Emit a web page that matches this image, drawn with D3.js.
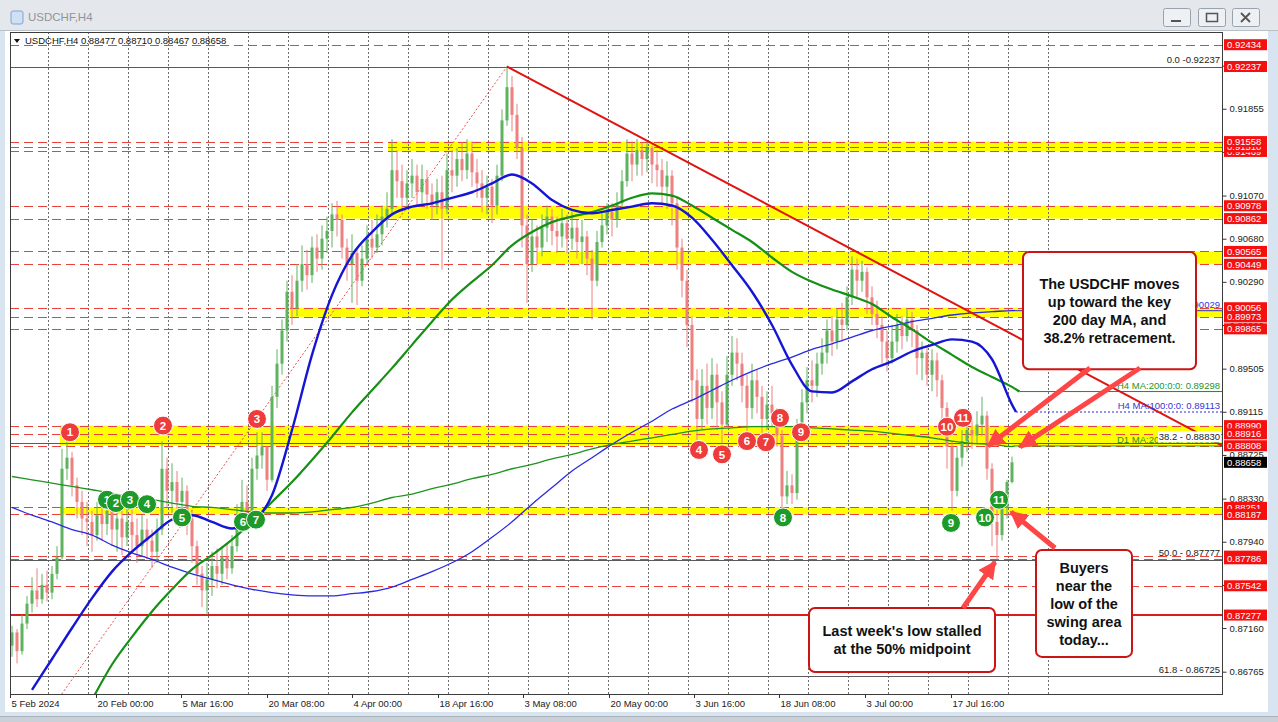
<!DOCTYPE html>
<html><head><meta charset="utf-8">
<script src="https://cdnjs.cloudflare.com/ajax/libs/d3/7.8.5/d3.min.js"></script>
<style>
html,body{margin:0;padding:0;background:#fff;overflow:hidden;}
svg{display:block;font-family:"Liberation Sans",Arial,sans-serif;}
</style></head><body>
<svg id="c" width="1278" height="722"></svg>
<script>
// ---------------- DATA ----------------
const symbol = "USDCHF,H4";
const ohlcInfo = ["0.88477","0.88710","0.88467","0.88658"];
const firstOpen = 0.8700;
const closes = [
0.8712,0.8695,0.8720,0.8738,0.8750,0.8742,0.8755,0.8748,0.8765,0.8780,
0.8860,0.8870,0.8845,0.8830,0.8815,0.8812,0.8800,0.8818,0.8810,0.8822,
0.8805,0.8815,0.8798,0.8812,0.8800,0.8790,0.8805,0.8795,0.8785,0.8805,
0.8860,0.8840,0.8848,0.8830,0.8840,0.8815,0.8790,0.8765,0.8750,0.8760,
0.8772,0.8765,0.8780,0.8770,0.8790,0.8818,0.8830,0.8820,0.8860,0.8872,
0.8880,0.8850,0.8925,0.8955,0.8985,0.9020,0.9005,0.9030,0.9045,0.9035,
0.9060,0.9050,0.9068,0.9075,0.9090,0.9085,0.9060,0.9045,0.9055,0.9030,
0.9050,0.9068,0.9060,0.9072,0.9088,0.9095,0.9130,0.9120,0.9105,0.9118,
0.9125,0.9110,0.9122,0.9108,0.9098,0.9110,0.9095,0.9130,0.9125,0.9140,
0.9130,0.9145,0.9128,0.9118,0.9105,0.9115,0.9098,0.9125,0.9175,0.9205,
0.9180,0.9150,0.9080,0.9045,0.9070,0.9060,0.9078,0.9088,0.9075,0.9070,
0.9082,0.9068,0.9078,0.9065,0.9070,0.9050,0.9030,0.9065,0.9080,0.9092,
0.9085,0.9100,0.9120,0.9145,0.9135,0.9148,0.9140,0.9150,0.9135,0.9130,
0.9115,0.9125,0.9100,0.9060,0.9030,0.8990,0.8940,0.8905,0.8935,0.8915,
0.8945,0.8920,0.8900,0.8945,0.8965,0.8955,0.8935,0.8915,0.8940,0.8925,
0.8905,0.8918,0.8910,0.8890,0.8835,0.8845,0.8838,0.8890,0.8920,0.8940,
0.8935,0.8955,0.8965,0.8985,0.8975,0.8995,0.8990,0.9015,0.9040,0.9030,
0.9038,0.9015,0.9000,0.8990,0.8975,0.8960,0.8975,0.8990,0.8980,0.8995,
0.8985,0.8960,0.8965,0.8945,0.8958,0.8940,0.8915,0.8880,0.8840,0.8870,
0.8885,0.8895,0.8890,0.8900,0.8908,0.8860,0.8812,0.8800,0.8825,0.8848,
0.88658];
const highs = [
0.8718,0.8715,0.8728,0.8745,0.8762,0.8770,0.8765,0.8768,0.8772,0.8790,
0.8878,0.8888,0.8875,0.8852,0.8840,0.8830,0.8822,0.8830,0.8832,0.8835,
0.8828,0.8830,0.8822,0.8830,0.8828,0.8815,0.8818,0.8815,0.8805,0.8815,
0.8885,0.8870,0.8865,0.8858,0.8852,0.8845,0.8822,0.8795,0.8772,0.8775,
0.8785,0.8788,0.8790,0.8792,0.8800,0.8828,0.8850,0.8845,0.8870,0.8893,
0.8893,0.8880,0.8935,0.8968,0.8995,0.9030,0.9035,0.9045,0.9062,0.9058,
0.9070,0.9072,0.9080,0.9088,0.9100,0.9102,0.9090,0.9068,0.9072,0.9060,
0.9062,0.9080,0.9085,0.9090,0.9098,0.9110,0.9158,0.9148,0.9135,0.9130,
0.9140,0.9135,0.9135,0.9130,0.9118,0.9122,0.9125,0.9145,0.9148,0.9150,
0.9155,0.9158,0.9156,0.9140,0.9130,0.9125,0.9122,0.9135,0.9185,0.9224,
0.9215,0.9190,0.9160,0.9090,0.9085,0.9080,0.9090,0.9098,0.9095,0.9088,
0.9095,0.9090,0.9092,0.9085,0.9085,0.9075,0.9058,0.9075,0.9092,0.9100,
0.9100,0.9110,0.9130,0.9158,0.9156,0.9158,0.9155,0.9156,0.9152,0.9148,
0.9140,0.9138,0.9130,0.9105,0.9068,0.9040,0.8998,0.8950,0.8950,0.8955,
0.8960,0.8955,0.8930,0.8962,0.8980,0.8978,0.8965,0.8945,0.8955,0.8950,
0.8935,0.8930,0.8935,0.8915,0.8895,0.8858,0.8855,0.8905,0.8932,0.8952,
0.8958,0.8965,0.8978,0.8995,0.8998,0.9005,0.9010,0.9025,0.9052,0.9050,
0.9048,0.9042,0.9025,0.9012,0.8998,0.8985,0.8990,0.9000,0.8998,0.9005,
0.9002,0.8990,0.8975,0.8970,0.8968,0.8965,0.8945,0.8920,0.8885,0.8880,
0.8895,0.8905,0.8905,0.8912,0.8925,0.8912,0.8865,0.8825,0.8835,0.8850,
0.88710];
const lows = [
0.8690,0.8684,0.8692,0.8715,0.8730,0.8735,0.8738,0.8740,0.8742,0.8760,
0.8778,0.8850,0.8835,0.8815,0.8800,0.8790,0.8785,0.8795,0.8795,0.8800,
0.8790,0.8785,0.8782,0.8790,0.8785,0.8775,0.8780,0.8778,0.8770,0.8775,
0.8800,0.8825,0.8820,0.8815,0.8818,0.8800,0.8775,0.8755,0.8735,0.8728,
0.8745,0.8752,0.8755,0.8760,0.8765,0.8785,0.8805,0.8810,0.8815,0.8850,
0.8860,0.8840,0.8848,0.8915,0.8945,0.8975,0.8990,0.8998,0.9020,0.9022,
0.9028,0.9038,0.9040,0.9055,0.9060,0.9070,0.9050,0.9030,0.9010,0.9008,
0.9025,0.9045,0.9050,0.9055,0.9062,0.9078,0.9090,0.9105,0.9092,0.9095,
0.9105,0.9098,0.9100,0.9095,0.9085,0.9090,0.9040,0.9090,0.9110,0.9115,
0.9120,0.9122,0.9115,0.9105,0.9092,0.9090,0.9082,0.9090,0.9120,0.9170,
0.9165,0.9140,0.9060,0.9010,0.9038,0.9045,0.9052,0.9065,0.9062,0.9055,
0.9060,0.9055,0.9058,0.9050,0.9045,0.9035,0.8995,0.9025,0.9060,0.9072,
0.9070,0.9078,0.9095,0.9115,0.9120,0.9125,0.9125,0.9128,0.9118,0.9115,
0.9100,0.9095,0.9080,0.9040,0.9015,0.8970,0.8920,0.8886,0.8895,0.8900,
0.8905,0.8895,0.8883,0.8898,0.8935,0.8940,0.8920,0.8890,0.8905,0.8910,
0.8892,0.8895,0.8898,0.8880,0.8823,0.8828,0.8828,0.8832,0.8885,0.8910,
0.8920,0.8925,0.8945,0.8955,0.8962,0.8968,0.8975,0.8985,0.9008,0.9015,
0.9020,0.9000,0.8990,0.8978,0.8955,0.8948,0.8955,0.8965,0.8968,0.8975,
0.8970,0.8945,0.8940,0.8935,0.8930,0.8925,0.8895,0.8860,0.8822,0.8835,
0.8862,0.8875,0.8878,0.8882,0.8890,0.8850,0.8790,0.8778,0.8795,0.8815,
0.88467];

// moving averages sampled every 4 bars
const maStep = 4;
const h4ma100Start = 4;
const h4ma100 = [0.8660,0.8688,0.8716,0.8743,0.8767,0.8785,0.8800,0.8814,0.8818,0.8812,
0.8806,0.8812,0.8836,0.8895,0.8963,0.9017,0.9053,0.9074,0.9090,0.9097,
0.9100,0.9105,0.9110,0.9118,0.9126,0.9118,0.9103,0.9094,0.9091,0.9094,
0.9097,0.9100,0.9098,0.9087,0.9067,0.9044,0.9020,0.8990,0.8954,0.8930,
0.8929,0.8939,0.8950,0.8957,0.8966,0.8972,0.8977,0.8975,0.8959,0.8918];
const h4ma200Start = 16;
const h4ma200 = [0.8651,0.8683,0.8708,0.8731,0.8751,0.8769,0.8782,0.8796,0.8812,0.8830,
0.8848,0.8868,0.8889,0.8911,0.8931,0.8951,0.8972,0.8993,0.9013,0.9029,
0.9044,0.9062,0.9074,0.9083,0.9088,0.9092,0.9098,0.9105,0.9109,0.9107,
0.9098,0.9087,0.9076,0.9065,0.9051,0.9038,0.9029,0.9022,0.9016,0.9009,
0.8997,0.8986,0.8974,0.8963,0.8952,0.8943,0.8934];
const d1ma100Start = 0;
const d1ma100 = [0.8825,0.8818,0.8812,0.8805,0.8800,0.8791,0.8784,0.8778,0.8771,0.8765,
0.8760,0.8755,0.8751,0.8748,0.8746,0.8745,0.8745,0.8747,0.8749,0.8753,
0.8760,0.8767,0.8775,0.8785,0.8798,0.8812,0.8828,0.8843,0.8858,0.8870,
0.8882,0.8893,0.8903,0.8914,0.8922,0.8931,0.8940,0.8948,0.8955,0.8961,
0.8968,0.8973,0.8979,0.8985,0.8989,0.8993,0.8996,0.8999,0.9001,0.9002,0.9003];
const d1ma200Start = 0;
const d1ma200 = [0.8853,0.8850,0.8847,0.8844,0.8841,0.8838,0.8834,0.8832,0.8829,0.8826,
0.8825,0.8823,0.8821,0.8820,0.8820,0.8821,0.8823,0.8825,0.8829,0.8834,
0.8837,0.8842,0.8846,0.8851,0.8855,0.8860,0.8864,0.8869,0.8873,0.8878,
0.8882,0.8885,0.8888,0.8891,0.8894,0.8896,0.8897,0.8898,0.8898,0.8898,
0.8897,0.8896,0.8895,0.8894,0.8892,0.8890,0.8888,0.8885,0.8883,0.8882,0.8880];
const maLastValues = {h4ma100:0.89113, h4ma200:0.89298, d1ma100:0.90029, d1ma200:0.88806};
const maLabels = ["H4 MA:100:0:0: 0.89113","H4 MA:200:0:0: 0.89298","D1 MA:100:0:0: 0.90029","D1 MA:200:0:0: 0.88806"];

const priceTicks = [0.92245,0.91855,0.91465,0.91070,0.90680,0.90290,0.89900,0.89505,0.89115,0.88725,0.88330,0.87940,0.87550,0.87160,0.86765];
const timeLabels = ["5 Feb 2024","20 Feb 00:00","5 Mar 16:00","20 Mar 08:00","4 Apr 00:00","18 Apr 16:00","3 May 08:00","20 May 00:00","3 Jun 16:00","18 Jun 08:00","3 Jul 00:00","17 Jul 16:00"];
const timeLabelBars = [-0.4,16.7,33.8,50.9,68.0,85.1,102.2,119.3,136.4,153.5,170.6,187.7];

const dashedLevels = [0.92434,0.91558,0.91510,0.91469,0.90978,0.90862,0.90565,0.90449,0.90056,0.89973,0.89865,0.88990,0.88916,0.88808,0.88251,0.88187,0.87810,0.87786,0.87542];
const supportLevel = 0.87277;
const priceTags = [0.92434,0.92237,0.91469,0.91510,0.91558,0.90978,0.90862,0.90565,0.90449,0.90056,0.89973,0.89865,0.88990,0.88916,0.88808,0.88251,0.88187,0.87810,0.87786,0.87542,0.87277];
const currentPrice = 0.88658;

const bandStartBar = [75.2,65,105,55.6,9.6,9.6];
const bandTop = [0.91558,0.90978,0.90565,0.90056,0.88990,0.88251];
const bandBottom = [0.91469,0.90862,0.90449,0.89973,0.88808,0.88187];

const fibLevels = [0.92237,0.88830,0.87777,0.86725];
const fibTexts = ["0.0 -0.92237","38.2 - 0.88830","50.0 - 0.87777","61.8 - 0.86725"];
const fibAnchorBars = [-41,99];
const fibAnchorPrices = [0.83317,0.92237];
const trendBars = [99,242];
const trendPrices = [0.92237,0.88810];

const redMarkBars = [11.6,30.2,49.0,137.4,142.0,147.0,150.8,153.6,157.8,187.0,190.2];
const redMarkPrices = [0.8893,0.8899,0.8905,0.8877,0.8873,0.8885,0.8884,0.8906,0.8893,0.8898,0.8906];
const greenMarkBars = [19.0,20.8,23.6,27.0,34.0,46.2,48.8,154.2,187.8,194.6,197.4];
const greenMarkPrices = [0.8832,0.8829,0.8832,0.8828,0.8816,0.8812,0.8814,0.8816,0.8811,0.8816,0.8832];

const noteLines = [
  ["The USDCHF moves","up toward the key","200 day MA, and","38.2% retracement."],
  ["Last week's low stalled","at the 50% midpoint"],
  ["Buyers","near the","low of the","swing area","today..."]
];
const noteBars = [[202.2,236.8],[159.4,196.6],[204.8,224]];
const notePrices = [[0.9056,0.8950],[0.87341,0.86762],[0.87866,0.86899]];
const arrowFrom = [[215.6,0.89511],[225.6,0.89511],[190.2,0.87341],[208.6,0.87884]];
const arrowTo = [[195.2,0.88806],[201.6,0.88797],[196.6,0.87757],[199.8,0.88209]];

// ---------------- DRAW ----------------
const W=1278,H=722;
const P={l:10,r:1222,t:32,b:694};
const svg=d3.select("#c");
const x=d3.scaleLinear().domain([0,200]).range([12,1012]);
const y=d3.scaleLinear().domain([0.86765,0.92237]).range([671.7,66.5]);
const rightBar=x.invert(P.r);

const defs=svg.append("defs");
defs.append("clipPath").attr("id","clip").append("rect")
  .attr("x",P.l).attr("y",P.t).attr("width",P.r-P.l).attr("height",P.b-P.t);
defs.append("marker").attr("id","ah").attr("viewBox","0 0 10 10").attr("refX",9).attr("refY",5)
  .attr("markerWidth",18).attr("markerHeight",18).attr("markerUnits","userSpaceOnUse").attr("orient","auto")
  .append("path").attr("d","M0,0 L10,5 L0,10 z").attr("fill","#ff4646");

// window chrome
svg.append("rect").attr("width",W).attr("height",H).attr("fill","#d8e4f0");
svg.append("rect").attr("x",0).attr("y",0).attr("width",W).attr("height",31).attr("fill","#e4e8ed");
svg.append("line").attr("x1",0).attr("x2",W).attr("y1",30.5).attr("y2",30.5).attr("stroke","#b8c0c8");
svg.append("rect").attr("x",11).attr("y",11).attr("width",12).attr("height",13).attr("rx",2).attr("fill","#cfe0f3").attr("stroke","#7ea6d3");
svg.append("text").attr("x",28).attr("y",21).attr("font-size",11.5).attr("fill","#8f9499").text(symbol);
const btnX=[1163,1198,1232];
btnX.forEach((bx)=>{
  svg.append("rect").attr("x",bx+0.5).attr("y",8.5).attr("width",27).attr("height",18).attr("rx",2)
    .attr("fill","#eef1f4").attr("stroke","#9aa3ad");
});
svg.append("line").attr("x1",1171).attr("x2",1181).attr("y1",21).attr("y2",21).attr("stroke","#555").attr("stroke-width",2);
svg.append("rect").attr("x",1206.5).attr("y",13.5).attr("width",11).attr("height",8).attr("fill","none").attr("stroke","#555").attr("stroke-width",1.5);
svg.append("path").attr("d","M1241,13 L1250,22 M1250,13 L1241,22").attr("stroke","#555").attr("stroke-width",1.8);
svg.append("rect").attr("x",5).attr("y",31).attr("width",1263).attr("height",681).attr("fill","#ffffff");
svg.append("line").attr("x1",0).attr("x2",W).attr("y1",716.5).attr("y2",716.5).attr("stroke","#a9b1ba");
svg.append("rect").attr("x",0).attr("y",717).attr("width",W).attr("height",5).attr("fill","#c9d0d8");

const plot=svg.append("g").attr("clip-path","url(#clip)");

// yellow bands
plot.selectAll(".band").data(bandStartBar).join("rect")
  .attr("x",(d)=>x(d)).attr("width",(d)=>P.r-x(d))
  .attr("y",(d,k)=>y(bandTop[k])).attr("height",(d,k)=>y(bandBottom[k])-y(bandTop[k]))
  .attr("fill","#ffff00");

// vertical grid
plot.selectAll(".vg").data(d3.range(7.2,208,8)).join("line")
  .attr("x1",d=>Math.round(x(d))+0.5).attr("x2",d=>Math.round(x(d))+0.5).attr("y1",P.t).attr("y2",P.b)
  .attr("stroke","#6e6e6e").attr("stroke-dasharray","2,2").attr("stroke-width",1);

// fib levels
plot.selectAll(".fib").data(fibLevels).join("line")
  .attr("x1",P.l).attr("x2",P.r).attr("y1",d=>Math.round(y(d))+0.5).attr("y2",d=>Math.round(y(d))+0.5)
  .attr("stroke","#5a5a5a").attr("stroke-width",1);
plot.append("line").attr("x1",x(fibAnchorBars[0])).attr("y1",y(fibAnchorPrices[0]))
  .attr("x2",x(fibAnchorBars[1])).attr("y2",y(fibAnchorPrices[1]))
  .attr("stroke","#e85050").attr("stroke-dasharray","2,2").attr("stroke-width",1);

// dashed red levels
plot.selectAll(".dl").data(dashedLevels).join("line")
  .attr("x1",P.l).attr("x2",P.r).attr("y1",d=>Math.round(y(d))+0.5).attr("y2",d=>Math.round(y(d))+0.5)
  .attr("stroke","#e8433a").attr("stroke-dasharray","9,5").attr("stroke-width",1);
plot.append("line").attr("x1",P.l).attr("x2",P.r).attr("y1",y(supportLevel)).attr("y2",y(supportLevel))
  .attr("stroke","#d91c1c").attr("stroke-width",2);

// candles
const candles=closes.map((c,i)=>{
  const o=i===0?firstOpen:closes[i-1];
  return {i,o,c,h:Math.max(highs[i],o,c),l:Math.min(lows[i],o,c)};
});
const cg=plot.append("g");
cg.selectAll(".wick").data(candles).join("line")
  .attr("x1",d=>x(d.i)).attr("x2",d=>x(d.i)).attr("y1",d=>y(d.h)).attr("y2",d=>y(d.l))
  .attr("stroke",d=>d.c>=d.o?"#5fb35f":"#ee8080").attr("stroke-width",1);
cg.selectAll(".body").data(candles).join("rect")
  .attr("x",d=>x(d.i)-1.5).attr("width",3)
  .attr("y",d=>y(Math.max(d.o,d.c))).attr("height",d=>Math.max(1,Math.abs(y(d.o)-y(d.c))))
  .attr("fill",d=>d.c>=d.o?"#5fb35f":"#ee8080");

// moving averages
function maPts(arr,start){return arr.map((v,k)=>[start+k*maStep,v]);}
const lineGen=d3.line().x(d=>x(d[0])).y(d=>y(d[1])).curve(d3.curveMonotoneX);
const lastBar=200.6;
// D1 thin lines
plot.append("path").attr("d",lineGen(maPts(d1ma100,d1ma100Start).concat([[lastBar,maLastValues.d1ma100]])))
  .attr("fill","none").attr("stroke","#2a2ae0").attr("stroke-width",1.3);
plot.append("line").attr("x1",x(lastBar)).attr("x2",P.r).attr("y1",y(maLastValues.d1ma100)).attr("y2",y(maLastValues.d1ma100))
  .attr("stroke","#2a2ae0").attr("stroke-width",1);
plot.append("path").attr("d",lineGen(maPts(d1ma200,d1ma200Start).concat([[lastBar,maLastValues.d1ma200]])))
  .attr("fill","none").attr("stroke","#1e941e").attr("stroke-width",1.3);
plot.append("line").attr("x1",x(lastBar)).attr("x2",P.r).attr("y1",y(maLastValues.d1ma200)).attr("y2",y(maLastValues.d1ma200))
  .attr("stroke","#1e941e").attr("stroke-width",1);
// H4 thick lines
plot.append("path").attr("d",lineGen(maPts(h4ma200,h4ma200Start).concat([[201.5,maLastValues.h4ma200]])))
  .attr("fill","none").attr("stroke","#159015").attr("stroke-width",2.2);
plot.append("line").attr("x1",x(201.5)).attr("x2",P.r).attr("y1",y(maLastValues.h4ma200)).attr("y2",y(maLastValues.h4ma200))
  .attr("stroke","#159015").attr("stroke-width",1);
plot.append("path").attr("d",lineGen(maPts(h4ma100,h4ma100Start).concat([[200.8,maLastValues.h4ma100]])))
  .attr("fill","none").attr("stroke","#1515d5").attr("stroke-width",2.4);
plot.append("line").attr("x1",x(200.8)).attr("x2",P.r).attr("y1",y(maLastValues.h4ma100)).attr("y2",y(maLastValues.h4ma100))
  .attr("stroke","#2a2ae0").attr("stroke-width",1).attr("stroke-dasharray","2,2");

// trend line
plot.append("line").attr("x1",x(trendBars[0])).attr("y1",y(trendPrices[0])).attr("x2",x(trendBars[1])).attr("y2",y(trendPrices[1]))
  .attr("stroke","#e01212").attr("stroke-width",2);

// MA labels
const maLabelVals=[maLastValues.h4ma100,maLastValues.h4ma200,maLastValues.d1ma100,maLastValues.d1ma200];
const maLabelCols=["#3434d8","#2a922a","#3434d8","#2a922a"];
plot.selectAll(".mal").data(maLabels).join("text")
  .attr("x",P.r-2).attr("y",(d,k)=>y(maLabelVals[k])-3).attr("text-anchor","end")
  .attr("font-size",9.5).attr("fill",(d,k)=>maLabelCols[k]).text(d=>d);

// fib labels
fibTexts.forEach((t,k)=>{
  const ty=y(fibLevels[k])-3.5;
  if(k===1){
    plot.append("rect").attr("x",P.r-64).attr("y",ty-8.5).attr("width",63).attr("height",11).attr("fill","#fff");
  }
  plot.append("text").attr("x",P.r-2).attr("y",ty).attr("text-anchor","end").attr("font-size",9.5).attr("fill","#222").text(t);
});

// markers
function markers(bars,prices,col){
  const g=plot.append("g");
  bars.forEach((b,k)=>{
    g.append("circle").attr("cx",x(b)).attr("cy",y(prices[k])).attr("r",9.5).attr("fill",col).attr("stroke","#fff").attr("stroke-width",1);
    g.append("text").attr("x",x(b)).attr("y",y(prices[k])).attr("dy","0.36em").attr("text-anchor","middle")
      .attr("font-size",11.5).attr("font-weight","bold").attr("fill","#fff").text(k+1);
  });
}
markers(redMarkBars,redMarkPrices,"#ee3b3b");
markers(greenMarkBars,greenMarkPrices,"#1e9a2a");

// frame
svg.append("rect").attr("x",P.l+0.5).attr("y",P.t+0.5).attr("width",P.r-P.l).attr("height",P.b-P.t)
  .attr("fill","none").attr("stroke","#3c3c3c").attr("stroke-width",1);

// price axis
const yAxis=d3.axisRight(y).tickValues(priceTicks).tickSize(4).tickFormat(d3.format(".5f"));
const ag=svg.append("g").attr("transform",`translate(${P.r+0.5},0)`).call(yAxis);
ag.select(".domain").remove();
ag.selectAll("line").attr("stroke","#333");
ag.selectAll("text").attr("font-size",9.5).attr("font-family","Liberation Sans, Arial").attr("fill","#222").attr("x",7);

// price tags
const tg=svg.append("g");
priceTags.forEach(p=>{
  tg.append("rect").attr("x",P.r+2).attr("y",y(p)-5.5).attr("width",43).attr("height",11).attr("fill","#f41010");
  tg.append("text").attr("x",P.r+5).attr("y",y(p)+3.5).attr("font-size",9.5).attr("fill","#fff").text(p.toFixed(5));
});
tg.append("rect").attr("x",P.r+2).attr("y",y(currentPrice)-5.5).attr("width",43).attr("height",11).attr("fill","#000");
tg.append("text").attr("x",P.r+5).attr("y",y(currentPrice)+3.5).attr("font-size",9.5).attr("fill","#fff").text(currentPrice.toFixed(5));

// time axis
const tgx=svg.append("g");
timeLabels.forEach((t,k)=>{
  const tx=Math.round(x(timeLabelBars[k]))+0.5;
  tgx.append("line").attr("x1",tx).attr("x2",tx).attr("y1",P.b).attr("y2",P.b+4).attr("stroke","#333");
  tgx.append("text").attr("x",tx+1).attr("y",707).attr("font-size",9.5).attr("fill","#222").text(t);
});

// header text
svg.append("path").attr("d","M14,39 L20,39 L17,43 z").attr("fill","#111");
svg.append("text").attr("x",25).attr("y",44).attr("font-size",9.5).attr("fill","#111")
  .text(symbol+"  "+ohlcInfo.join(" "));

// annotation boxes
noteLines.forEach((lines,k)=>{
  const x0=x(noteBars[k][0]),x1=x(noteBars[k][1]),y0=y(notePrices[k][0]),y1=y(notePrices[k][1]);
  svg.append("rect").attr("x",x0).attr("y",y0).attr("width",x1-x0).attr("height",y1-y0).attr("rx",6)
    .attr("fill","#fff").attr("stroke","#cc1414").attr("stroke-width",2);
  const cy=(y0+y1)/2, cx=(x0+x1)/2;
  lines.forEach((t,j)=>{
    svg.append("text").attr("x",cx).attr("y",cy+(j-(lines.length-1)/2)*18).attr("dy","0.36em")
      .attr("text-anchor","middle").attr("font-size",14.5).attr("font-weight","bold").attr("fill","#111").text(t);
  });
});
// arrows
arrowFrom.forEach((f,k)=>{
  svg.append("line").attr("x1",x(f[0])).attr("y1",y(f[1])).attr("x2",x(arrowTo[k][0])).attr("y2",y(arrowTo[k][1]))
    .attr("stroke","#ff4646").attr("stroke-width",5).attr("marker-end","url(#ah)");
});
</script></body></html>
